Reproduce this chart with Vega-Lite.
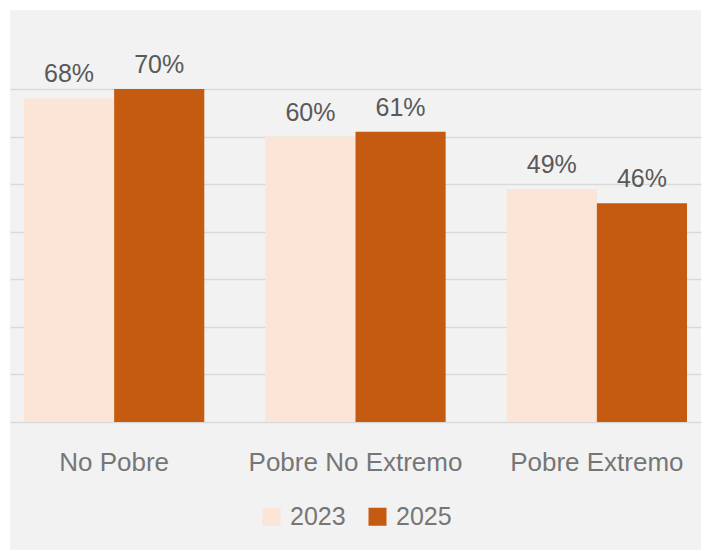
{
  "$schema": "https://vega.github.io/schema/vega-lite/v6.json",
  "autosize": {"type": "none"},
  "padding": {"left": 10, "top": 10, "right": 5, "bottom": 0},
  "width": 691,
  "height": 540,
  "background": "#ffffff",
  "config": {
    "view": {"stroke": null, "fill": "#f2f2f2"},
    "font": "Liberation Sans"
  },
  "data": {
    "values": [
      {"categoria": "No Pobre", "anio": "2023", "valor": 0.68},
      {"categoria": "No Pobre", "anio": "2025", "valor": 0.70},
      {"categoria": "Pobre No Extremo", "anio": "2023", "valor": 0.60},
      {"categoria": "Pobre No Extremo", "anio": "2025", "valor": 0.61},
      {"categoria": "Pobre Extremo", "anio": "2023", "valor": 0.49},
      {"categoria": "Pobre Extremo", "anio": "2025", "valor": 0.46}
    ]
  },
  "encoding": {
    "x": {
      "field": "categoria",
      "type": "nominal",
      "sort": ["No Pobre", "Pobre No Extremo", "Pobre Extremo"],
      "scale": {"paddingInner": 0.253, "paddingOuter": 0.058},
      "axis": {
        "title": null,
        "labelAngle": 0,
        "labelLimit": 0,
        "domain": false,
        "ticks": false,
        "offset": -128,
        "labelBaseline": "alphabetic",
        "labelPadding": 48,
        "labelFontSize": 26,
        "labelColor": "#767676",
        "labelFont": "Liberation Sans"
      }
    },
    "xOffset": {
      "field": "anio",
      "type": "nominal",
      "scale": {"paddingInner": 0, "paddingOuter": 0}
    },
    "y": {
      "field": "valor",
      "type": "quantitative",
      "scale": {"domain": [-0.269, 0.866], "nice": false, "zero": false},
      "axis": {
        "title": null,
        "values": [0, 0.1, 0.2, 0.3, 0.4, 0.5, 0.6, 0.7],
        "labels": false,
        "ticks": false,
        "domain": false,
        "grid": true,
        "gridColor": "#d9d9d9",
        "gridWidth": 1.3
      }
    }
  },
  "layer": [
    {
      "mark": {"type": "bar"},
      "encoding": {
        "y2": {"datum": 0},
        "color": {
          "field": "anio",
          "type": "nominal",
          "scale": {"domain": ["2023", "2025"], "range": ["#fbe5d6", "#c55a11"]},
          "legend": {
            "title": null,
            "orient": "none",
            "direction": "horizontal",
            "legendX": 249,
            "legendY": 494,
            "symbolType": "square",
            "symbolSize": 324,
            "symbolStrokeWidth": 0,
            "labelFontSize": 25,
            "labelColor": "#767676",
            "labelFont": "Liberation Sans",
            "labelOffset": 6,
            "columnPadding": 19
          }
        }
      }
    },
    {
      "mark": {"type": "text", "baseline": "alphabetic", "dy": -16, "fontSize": 25, "color": "#595959", "font": "Liberation Sans"},
      "encoding": {
        "text": {"field": "valor", "type": "quantitative", "format": ".0%"}
      }
    }
  ]
}
